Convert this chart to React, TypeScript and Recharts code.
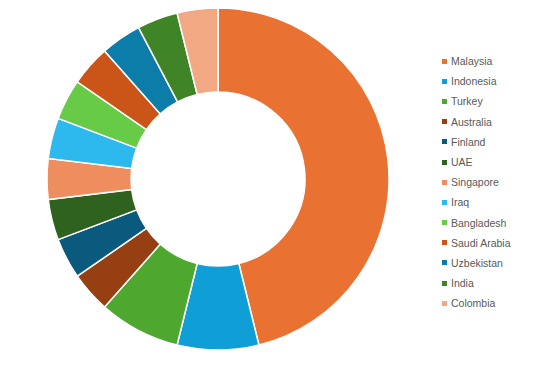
import React from 'react';
import { PieChart, Pie, Cell, Legend } from 'recharts';

const countries = [
  'Malaysia', 'Indonesia', 'Turkey', 'Australia', 'Finland', 'UAE', 'Singapore',
  'Iraq', 'Bangladesh', 'Saudi Arabia', 'Uzbekistan', 'India', 'Colombia',
];
const counts = [12, 2, 2, 1, 1, 1, 1, 1, 1, 1, 1, 1, 1];
const colors = [
  '#E97132', '#0F9ED5', '#4EA72E', '#953F12', '#0A5A7E', '#2F621E', '#EE8E5E',
  '#2DB8EE', '#67CB47', '#CB5418', '#0C7DA8', '#3F8426', '#F2A883',
];

const data = countries.map((name, i) => ({ name, value: counts[i] }));

const renderLegend = () => (
  <ul style={{ listStyle: 'none', margin: 0, padding: 0 }}>
    {countries.map((name, i) => (
      <li
        key={name}
        style={{ height: 20.2, display: 'flex', alignItems: 'center', fontFamily: '"Liberation Sans", Arial, sans-serif', fontSize: 10.5, color: '#595959' }}
      >
        <span style={{ display: 'inline-block', width: 5, height: 5, background: colors[i], marginRight: 4 }} />
        {name}
      </li>
    ))}
  </ul>
);

const App: React.FC = () => {
  return (
    <div style={{ position: 'absolute', left: 0, top: 0, width: 533, height: 365, background: '#fff' }}>
      <PieChart width={533} height={365} margin={{ top: 0, right: 0, bottom: 0, left: 0 }}>
        <Pie
          data={data}
          dataKey="value"
          nameKey="name"
          cx={218}
          cy={179}
          innerRadius={87}
          outerRadius={171}
          startAngle={90}
          endAngle={-270}
          stroke="#fff"
          strokeWidth={1.5}
          isAnimationActive={false}
        >
          {data.map((d, i) => (
            <Cell key={d.name} fill={colors[i]} />
          ))}
        </Pie>
        <Legend
          content={renderLegend}
          layout="vertical"
          wrapperStyle={{ position: 'absolute', left: 442, top: 51, width: 90 }}
        />
      </PieChart>
    </div>
  );
};

export default App;
